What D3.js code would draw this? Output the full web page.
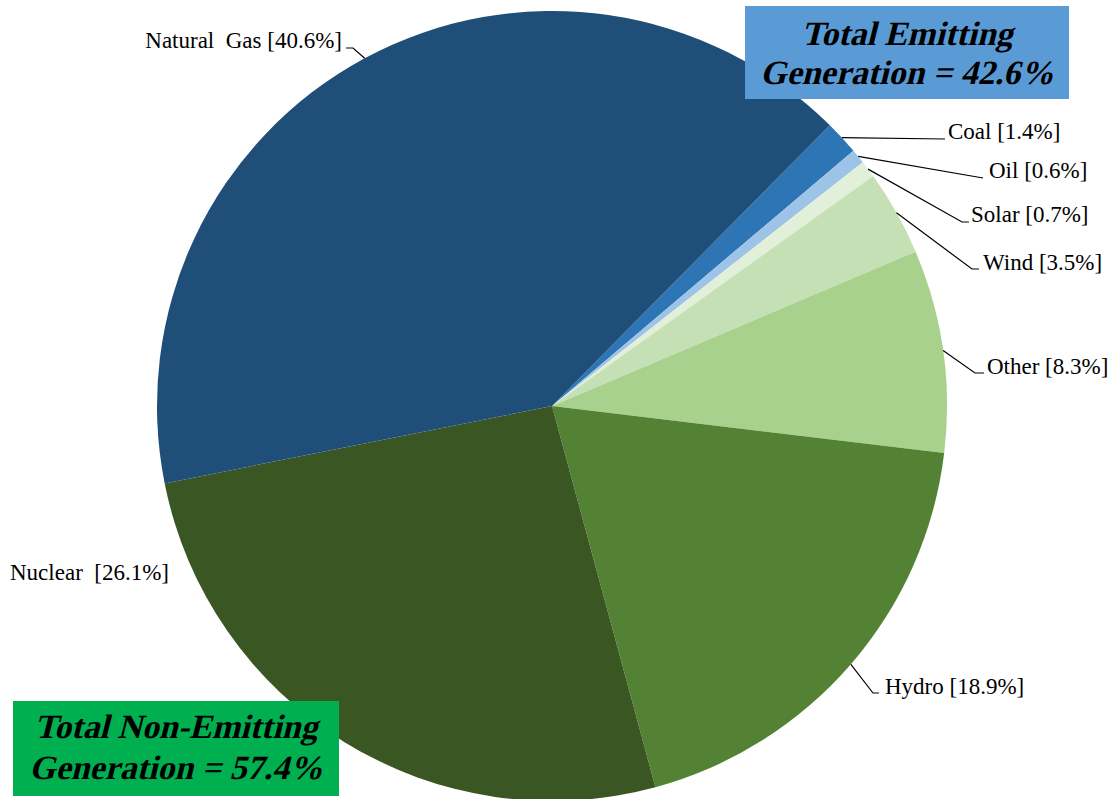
<!DOCTYPE html>
<html>
<head>
<meta charset="utf-8">
<script src="https://cdn.jsdelivr.net/npm/d3@7/dist/d3.min.js"></script>
<style>
  html, body { margin: 0; padding: 0; background: #fff; }
  svg { display: block; }
</style>
</head>
<body>
<svg id="chart" width="1115" height="799"></svg>
<script>
// ---- data ----
const categories = ["Coal", "Oil", "Solar", "Wind", "Other", "Hydro", "Nuclear", "Natural Gas"];
const shares = [1.4, 0.6, 0.7, 3.5, 8.3, 18.9, 26.1, 40.6];
const sliceColors = ["#2E75B6", "#9DC3E6", "#E2F0D9", "#C5E0B4", "#A9D18E", "#548235", "#3A5623", "#1F4E79"];
const emittingTotal = ["Total Emitting", "Generation = 42.6%"];
const nonEmittingTotal = ["Total Non-Emitting", "Generation = 57.4%"];

// ---- layout ----
const FONT = "'Liberation Serif', 'Times New Roman', Times, serif";
const cx = 552, cy = 406, R = 395;
const startDeg = 44.7;
const svg = d3.select("#chart");

const pie = d3.pie().sort(null).value(d => d.v)
  .startAngle(startDeg * Math.PI / 180)
  .endAngle((startDeg + 360) * Math.PI / 180);
const arc = d3.arc().innerRadius(0).outerRadius(R);

const data = categories.map((c, i) => ({ c, v: shares[i], col: sliceColors[i] }));
const arcs = pie(data);

const g = svg.append("g").attr("transform", `translate(${cx},${cy})`);
g.selectAll("path").data(arcs).enter().append("path")
  .attr("d", arc)
  .attr("fill", d => d.data.col);

// label layout: elbow point, optional horizontal end, text position
const labelLayout = {
  "Coal":        { elbow: [945, 139], tx: 948, ty: 139 },
  "Oil":         { elbow: [983, 178], tx: 989, ty: 178 },
  "Solar":       { elbow: [962, 222], end: 969, tx: 971, ty: 222 },
  "Wind":        { elbow: [972, 269], end: 979, tx: 983, ty: 270 },
  "Other":       { elbow: [975, 373], end: 984, tx: 987, ty: 374 },
  "Hydro":       { elbow: [873, 693], end: 879, tx: 885, ty: 694 },
  "Nuclear":     { none: true, tx: 10, ty: 580 },
  "Natural Gas": { elbow: [353, 48], end: 346, tx: 342, ty: 48, anchor: "end" }
};

const lbl = svg.append("g");
arcs.forEach(a => {
  const L = labelLayout[a.data.c];
  const text = a.data.c === "Natural Gas" ? "Natural\u00A0 Gas [40.6%]" :
               a.data.c === "Nuclear" ? "Nuclear\u00A0 [26.1%]" :
               `${a.data.c} [${a.data.v}%]`;
  if (!L.none) {
    const ang = (a.startAngle + a.endAngle) / 2;
    const sx = cx + R * Math.sin(ang), sy = cy - R * Math.cos(ang);
    const pts = [[sx, sy], L.elbow];
    if (L.end !== undefined) pts.push([L.end, L.elbow[1]]);
    lbl.append("path")
      .attr("d", d3.line()(pts))
      .attr("fill", "none").attr("stroke", "#000").attr("stroke-width", 1.2);
  }
  lbl.append("text")
    .attr("x", L.tx).attr("y", L.ty)
    .attr("text-anchor", L.anchor || "start")
    .attr("font-family", FONT)
    .attr("font-size", 23)
    .attr("fill", "#000")
    .text(text);
});

// total boxes (bold serif, slanted)
function totalBox(x, y, w, h, fill, lines, cxText, base1, base2) {
  svg.append("rect").attr("x", x).attr("y", y).attr("width", w).attr("height", h).attr("fill", fill);
  [base1, base2].forEach((b, i) => {
    svg.append("text")
      .attr("transform", `translate(${cxText},${b}) skewX(-14)`)
      .attr("text-anchor", "middle")
      .attr("font-family", FONT)
      .attr("font-size", 34)
      .attr("font-weight", "bold")
      .attr("fill", "#000")
      .text(lines[i]);
  });
}
totalBox(745, 6, 324, 93, "#5B9BD5", emittingTotal, 907, 45, 84);
totalBox(13, 701, 326, 95, "#00B050", nonEmittingTotal, 176, 738, 779);
</script>
</body>
</html>
